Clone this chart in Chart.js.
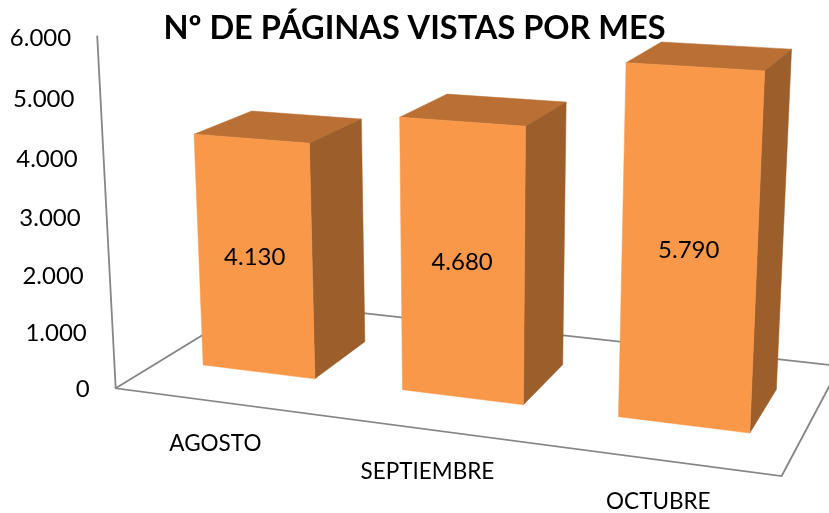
<!DOCTYPE html>
<html lang="es">
<head>
<meta charset="utf-8">
<title>Nº de páginas vistas por mes</title>
<script src="https://cdn.jsdelivr.net/npm/chart.js@4/dist/chart.umd.js"></script>
<style>
  html, body { margin: 0; padding: 0; background: #fff; }
  canvas { display: block; }
</style>
</head>
<body>
<canvas id="chart" width="829" height="513"></canvas>
<script>
// Data
const meses = ["AGOSTO", "SEPTIEMBRE", "OCTUBRE"];
const paginasVistas = [4130, 4680, 5790];
const yMax = 6000;
const yStep = 1000;

const FONT = "Lato, Carlito, sans-serif";
const FRONT = "#FA984A";
const TOP = "#BA7034";
const SIDE = "#9C5F2B";
const LINE = "#868686";
const DEPTH_FRONT = 0.2975;
const DEPTH_BACK = 0.703;

const formatNumber = (v) => String(v).replace(/\B(?=(\d{3})+$)/g, ".");
const valueDecimal = (scale, v) => scale.getDecimalForPixel(scale.getPixelForValue(v));

// Camera of the 3D box: u along the months, t up the value axis, w into the depth.
// All three run 0..1, u and t come from the Chart.js scales.
function project(u, t, w) {
  const k = -0.04922 * t;
  const d = -0.1198 * u + 0.1553 * w + 1 + k;
  return {
    x: (572.3 * u + 181.8 * w + 115.7 + 473 * k) / d,
    y: (30.7 * u - 40 * w + 388.3 + 7200 * k) / d,
  };
}

function fillQuad(ctx, pts, color) {
  ctx.fillStyle = color;
  ctx.strokeStyle = color;
  ctx.lineWidth = 0.5;
  ctx.beginPath();
  pts.forEach((p, i) => (i ? ctx.lineTo(p.x, p.y) : ctx.moveTo(p.x, p.y)));
  ctx.closePath();
  ctx.fill();
  ctx.stroke();
}

// Value axis labels follow the tilted wall
class WallScale extends Chart.LinearScale {
  _computeLabelItems(area) {
    const items = super._computeLabelItems(area);
    items.forEach((item, i) => {
      const t = valueDecimal(this, this.ticks[i].value);
      const p = project(0, t, 0);
      item.textOffset = 0;
      item.options.textAlign = "right";
      item.options.textBaseline = "middle";
      item.options.translation = [p.x - 26, p.y + 1 + 2 * t];
    });
    return items;
  }
}
WallScale.id = "wallLinear";
WallScale.defaults = Chart.LinearScale.defaults;

// Month labels step down along the front edge of the floor
class FloorScale extends Chart.CategoryScale {
  _computeLabelItems(area) {
    const items = super._computeLabelItems(area);
    items.forEach((item, i) => {
      const p = project(this.getDecimalForPixel(this.getPixelForTick(i)), 0, 0);
      item.textOffset = 0;
      item.options.textAlign = "center";
      item.options.textBaseline = "middle";
      item.options.translation = [p.x, p.y + 42];
    });
    return items;
  }
}
FloorScale.id = "floorCategory";
FloorScale.defaults = Chart.CategoryScale.defaults;

Chart.register(WallScale, FloorScale);

const box3d = {
  id: "box3d",
  // floor outline and the value axis wall line
  beforeDatasetsDraw(chart) {
    const ctx = chart.ctx;
    const a = project(0, 0, 0);
    const b = project(1, 0, 0);
    const c = project(1, 0, 1);
    const d = project(0, 0, 1);
    const top = project(0, 1, 0);
    ctx.save();
    ctx.strokeStyle = LINE;
    ctx.lineWidth = 1.8;
    ctx.beginPath();
    ctx.moveTo(top.x, top.y);
    ctx.lineTo(a.x, a.y);
    ctx.lineTo(b.x, b.y);
    ctx.lineTo(c.x, c.y);
    ctx.lineTo(d.x, d.y);
    ctx.lineTo(a.x, a.y);
    ctx.stroke();
    ctx.restore();
  },
  // replaces the flat bars with the three visible faces of each box
  beforeDatasetDraw(chart, args) {
    const ctx = chart.ctx;
    const xs = chart.scales.x;
    const ys = chart.scales.y;
    const data = chart.data.datasets[args.index].data;
    ctx.save();
    args.meta.data.forEach((bar, i) => {
      const u0 = xs.getDecimalForPixel(bar.x - bar.width / 2);
      const u1 = xs.getDecimalForPixel(bar.x + bar.width / 2);
      const t = valueDecimal(ys, data[i]);
      const z0 = DEPTH_FRONT;
      const z1 = DEPTH_BACK;
      fillQuad(ctx, [project(u0, t, z0), project(u1, t, z0), project(u1, t, z1), project(u0, t, z1)], TOP);
      fillQuad(ctx, [project(u1, 0, z0), project(u1, t, z0), project(u1, t, z1), project(u1, 0, z1)], SIDE);
      fillQuad(ctx, [project(u0, 0, z0), project(u1, 0, z0), project(u1, t, z0), project(u0, t, z0)], FRONT);

      const mid = project((u0 + u1) / 2, t / 2, z0);
      ctx.fillStyle = "#000";
      ctx.font = `24px ${FONT}`;
      ctx.textAlign = "center";
      ctx.textBaseline = "middle";
      ctx.fillText(formatNumber(data[i]), mid.x, mid.y);
    });
    ctx.restore();
    return false;
  },
};

new Chart(document.getElementById("chart"), {
  type: "bar",
  data: {
    labels: meses,
    datasets: [
      {
        label: "Páginas vistas",
        data: paginasVistas,
        backgroundColor: FRONT,
        barPercentage: 0.57,
        categoryPercentage: 1,
      },
    ],
  },
  plugins: [box3d],
  options: {
    responsive: false,
    animation: false,
    layout: { padding: 0 },
    plugins: {
      legend: { display: false },
      tooltip: { enabled: false },
      title: {
        display: true,
        text: "Nº DE PÁGINAS VISTAS POR MES",
        color: "#000",
        font: { family: FONT, size: 32.5, weight: "bold", lineHeight: 1.2 },
        padding: { top: 9, bottom: -13 },
      },
    },
    scales: {
      x: {
        type: "floorCategory",
        grid: { display: false },
        border: { display: false },
        ticks: { color: "#000", font: { family: FONT, size: 22.5 }, maxRotation: 0, autoSkip: false },
        afterFit: (s) => { s.height = 125; },
      },
      y: {
        type: "wallLinear",
        min: 0,
        max: yMax,
        grid: { display: false },
        border: { display: false },
        ticks: { stepSize: yStep, color: "#000", font: { family: FONT, size: 24 }, callback: formatNumber },
        afterFit: (s) => { s.width = 97; },
      },
    },
  },
});
</script>
</body>
</html>
